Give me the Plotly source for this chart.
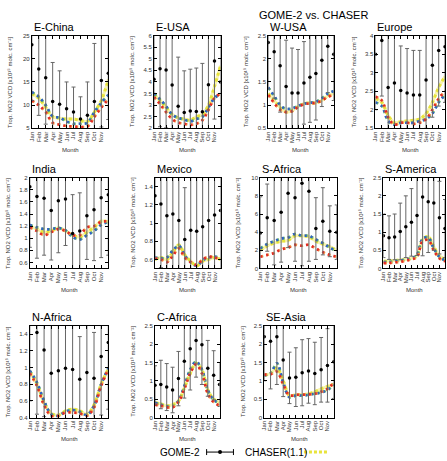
import plotly.graph_objects as go

MONTHS = ["Jan", "Feb", "Mar", "Apr", "May", "Jun", "Jul", "Aug", "Sep", "Oct", "Nov", "Dec"]
MONTH_NUM = list(range(1, 13))

REGIONS = ["E-China", "E-USA", "W-USA", "Europe", "India", "Mexico", "S-Africa",
           "S-America", "N-Africa", "C-Africa", "SE-Asia"]

# GOME-2 monthly means and error (1 sigma)
ECHINA_GOME = [23.0, 17.8, 15.9, 10.8, 10.2, 9.2, 8.5, 7.0, 7.8, 10.8, 15.3, 16.9]
ECHINA_ERR = [12, 10, 10, 8.4, 7.2, 5.8, 5.4, 4.8, 7.2, 12.5, 10, 10]
ECHINA_YEL = [12.5, 11.5, 9.5, 7.5, 7.2, 7.0, 7.0, 6.7, 6.5, 8.5, 11.0, 15.5]
ECHINA_BLU = [12.8, 11.8, 10.0, 7.6, 7.3, 6.5, 6.0, 6.0, 6.2, 8.5, 10.5, 12.2]
ECHINA_RED = [11.0, 10.0, 8.5, 6.2, 5.8, 5.5, 5.4, 5.3, 5.4, 7.5, 9.5, 11.3]

EUSA_GOME = [4.12, 4.57, 4.52, 3.87, 2.95, 2.68, 2.75, 2.73, 2.72, 3.88, 4.9, 4.0]
EUSA_ERR = [2.5, 2.5, 2.5, 2.3, 2.12, 1.8, 1.8, 1.87, 2.08, 2.3, 2.5, 2.5]
EUSA_YEL = [3.45, 3.2, 2.9, 2.6, 2.45, 2.4, 2.35, 2.5, 2.6, 3.0, 3.8, 4.7]
EUSA_BLU = [3.5, 3.25, 2.95, 2.6, 2.45, 2.38, 2.3, 2.4, 2.5, 2.9, 3.3, 3.5]
EUSA_RED = [3.35, 3.05, 2.7, 2.4, 2.25, 2.2, 2.15, 2.2, 2.35, 2.8, 3.3, 3.5]

WUSA_GOME = [2.35, 2.15, 1.85, 1.4, 1.26, 1.26, 1.48, 1.6, 1.68, 1.97, 2.27, 2.1]
WUSA_ERR = [1.0, 1.0, 1.0, 1.0, 0.97, 0.94, 0.89, 0.97, 1.0, 1.0, 1.0, 1.0]
WUSA_YEL = [1.25, 1.1, 0.95, 0.85, 0.88, 0.97, 1.03, 1.05, 1.05, 1.1, 1.2, 1.25]
WUSA_BLU = [1.38, 1.2, 1.0, 0.92, 0.93, 0.98, 1.03, 1.05, 1.07, 1.15, 1.25, 1.3]
WUSA_RED = [1.22, 1.05, 0.9, 0.85, 0.87, 0.96, 1.02, 1.04, 1.05, 1.1, 1.18, 1.22]

EUROPE_GOME = [3.5, 3.87, 2.6, 2.72, 2.52, 2.45, 2.4, 2.4, 2.8, 3.2, 3.6, 3.7]
EUROPE_ERR = [1.5, 1.5, 1.4, 1.3, 1.2, 1.2, 1.2, 1.2, 1.3, 1.4, 1.5, 1.5]
EUROPE_YEL = [2.3, 2.2, 1.85, 1.65, 1.68, 1.7, 1.72, 1.75, 1.9, 2.2, 2.6, 2.9]
EUROPE_BLU = [2.2, 2.1, 1.7, 1.6, 1.65, 1.65, 1.65, 1.7, 1.75, 1.9, 2.2, 2.4]
EUROPE_RED = [2.35, 2.25, 1.8, 1.6, 1.65, 1.65, 1.62, 1.65, 1.75, 2.0, 2.3, 2.5]

INDIA_GOME = [1.85, 1.69, 1.66, 1.46, 1.62, 1.65, 1.08, 1.12, 1.37, 1.47, 1.67, 1.72]
INDIA_ERR = [1.0, 1.02, 0.94, 0.82, 0.86, 0.77, 0.64, 0.63, 0.72, 0.84, 0.99, 1.0]
INDIA_YEL = [1.2, 1.15, 1.1, 1.12, 1.17, 1.12, 1.05, 1.02, 1.1, 1.18, 1.28, 1.27]
INDIA_BLU = [1.22, 1.18, 1.15, 1.15, 1.17, 1.13, 1.02, 0.98, 1.05, 1.12, 1.22, 1.27]
INDIA_RED = [1.18, 1.12, 1.05, 1.1, 1.15, 1.12, 1.05, 1.05, 1.18, 1.2, 1.27, 1.28]

MEXICO_GOME = [1.3, 1.21, 1.08, 1.1, 1.03, 0.82, 0.92, 0.91, 0.96, 1.03, 1.09, 1.14]
MEXICO_ERR = [0.7, 0.7, 0.65, 0.65, 0.6, 0.57, 0.62, 0.62, 0.6, 0.65, 0.7, 0.7]
MEXICO_YEL = [0.6, 0.62, 0.6, 0.68, 0.76, 0.65, 0.58, 0.53, 0.58, 0.6, 0.62, 0.6]
MEXICO_BLU = [0.62, 0.61, 0.62, 0.7, 0.75, 0.64, 0.57, 0.53, 0.59, 0.62, 0.63, 0.62]
MEXICO_RED = [0.61, 0.6, 0.57, 0.64, 0.72, 0.62, 0.57, 0.54, 0.6, 0.63, 0.62, 0.6]

SAFRICA_GOME = [3.9, 5.6, 5.3, 6.2, 8.3, 7.8, 9.4, 8.5, 4.4, 5.2, 4.1, 4.0]
SAFRICA_ERR = [4.0, 3.7, 4.9, 5.5, 6.0, 7.0, 9.1, 7.7, 3.4, 3.7, 2.8, 3.0]
SAFRICA_YEL = [2.0, 2.5, 2.8, 3.0, 3.1, 3.6, 3.6, 3.5, 3.0, 2.7, 2.4, 2.0]
SAFRICA_BLU = [2.2, 2.7, 3.0, 3.3, 3.4, 3.8, 3.6, 3.6, 3.2, 2.8, 2.3, 1.9]
SAFRICA_RED = [1.3, 1.5, 1.7, 2.1, 2.3, 2.6, 2.5, 2.6, 2.2, 1.8, 1.5, 1.3]

SAMERICA_GOME = [0.9, 0.85, 0.87, 1.02, 1.15, 1.27, 1.46, 1.97, 1.84, 1.8, 1.4, 1.1]
SAMERICA_ERR = [0.6, 0.6, 0.63, 0.78, 0.85, 0.93, 1.1, 1.62, 1.4, 1.3, 1.0, 0.8]
SAMERICA_YEL = [0.2, 0.2, 0.22, 0.23, 0.25, 0.28, 0.35, 0.8, 0.88, 0.6, 0.35, 0.25]
SAMERICA_BLU = [0.18, 0.18, 0.2, 0.22, 0.25, 0.28, 0.38, 0.82, 0.85, 0.55, 0.32, 0.22]
SAMERICA_RED = [0.15, 0.15, 0.17, 0.18, 0.22, 0.25, 0.32, 0.75, 0.78, 0.5, 0.28, 0.2]

NAFRICA_GOME = [1.6, 1.42, 1.21, 0.93, 0.96, 0.99, 0.975, 0.86, 0.94, 0.87, 1.13, 1.3]
NAFRICA_ERR = [1.0, 0.98, 0.8, 0.6, 0.6, 0.6, 0.6, 0.51, 0.6, 0.55, 0.7, 0.8]
NAFRICA_YEL = [0.95, 0.8, 0.58, 0.45, 0.43, 0.48, 0.5, 0.48, 0.44, 0.55, 0.8, 0.98]
NAFRICA_BLU = [0.96, 0.82, 0.6, 0.44, 0.42, 0.47, 0.49, 0.47, 0.43, 0.54, 0.8, 0.99]
NAFRICA_RED = [0.93, 0.78, 0.55, 0.42, 0.42, 0.46, 0.46, 0.45, 0.42, 0.52, 0.78, 0.98]

CAFRICA_GOME = [0.88, 0.9, 0.83, 0.75, 1.06, 1.53, 1.87, 2.1, 1.98, 1.34, 1.15, 0.9]
CAFRICA_ERR = [0.53, 0.66, 0.64, 0.62, 0.74, 1.0, 1.12, 1.0, 1.08, 0.76, 0.67, 0.6]
CAFRICA_YEL = [0.4, 0.37, 0.32, 0.35, 0.45, 0.8, 1.2, 1.48, 1.3, 0.75, 0.5, 0.42]
CAFRICA_BLU = [0.4, 0.35, 0.3, 0.3, 0.45, 0.85, 1.3, 1.52, 1.3, 0.75, 0.48, 0.4]
CAFRICA_RED = [0.35, 0.32, 0.28, 0.28, 0.42, 0.78, 1.2, 1.45, 1.2, 0.65, 0.42, 0.33]

SEASIA_GOME = [2.2, 2.08, 2.2, 1.57, 1.08, 1.1, 1.22, 1.27, 1.2, 1.3, 1.42, 1.52]
SEASIA_ERR = [1.2, 1.3, 1.3, 1.0, 0.7, 0.8, 0.9, 0.88, 0.85, 0.88, 1.0, 1.0]
SEASIA_YEL = [1.15, 1.2, 1.35, 1.0, 0.6, 0.62, 0.62, 0.65, 0.7, 0.78, 0.85, 0.9]
SEASIA_BLU = [1.15, 1.2, 1.48, 0.95, 0.55, 0.6, 0.6, 0.62, 0.65, 0.68, 0.75, 0.9]
SEASIA_RED = [1.17, 1.18, 1.25, 0.9, 0.6, 0.62, 0.62, 0.63, 0.65, 0.7, 0.78, 0.95]

Y_RANGES = [[5, 25], [2, 6], [0.5, 2.5], [1.5, 4], [0.5, 2], [0.5, 1.5], [0, 10],
            [0, 2.5], [0.4, 1.5], [0, 2.5], [0, 2.5]]
Y_TICKS = [[5, 10, 15, 20, 25], [2, 2.5, 3, 3.5, 4, 4.5, 5, 5.5, 6],
           [0.5, 1, 1.5, 2, 2.5], [1.5, 2, 2.5, 3, 3.5, 4],
           [0.6, 0.8, 1, 1.2, 1.4, 1.6, 1.8, 2], [0.6, 0.8, 1, 1.2, 1.4],
           [0, 2, 4, 6, 8, 10], [0, 0.5, 1, 1.5, 2, 2.5],
           [0.4, 0.6, 0.8, 1, 1.2, 1.4], [0, 0.5, 1, 1.5, 2, 2.5], [0, 0.5, 1, 1.5, 2, 2.5]]

SERIES = [
    (ECHINA_GOME, ECHINA_ERR, ECHINA_YEL, ECHINA_BLU, ECHINA_RED),
    (EUSA_GOME, EUSA_ERR, EUSA_YEL, EUSA_BLU, EUSA_RED),
    (WUSA_GOME, WUSA_ERR, WUSA_YEL, WUSA_BLU, WUSA_RED),
    (EUROPE_GOME, EUROPE_ERR, EUROPE_YEL, EUROPE_BLU, EUROPE_RED),
    (INDIA_GOME, INDIA_ERR, INDIA_YEL, INDIA_BLU, INDIA_RED),
    (MEXICO_GOME, MEXICO_ERR, MEXICO_YEL, MEXICO_BLU, MEXICO_RED),
    (SAFRICA_GOME, SAFRICA_ERR, SAFRICA_YEL, SAFRICA_BLU, SAFRICA_RED),
    (SAMERICA_GOME, SAMERICA_ERR, SAMERICA_YEL, SAMERICA_BLU, SAMERICA_RED),
    (NAFRICA_GOME, NAFRICA_ERR, NAFRICA_YEL, NAFRICA_BLU, NAFRICA_RED),
    (CAFRICA_GOME, CAFRICA_ERR, CAFRICA_YEL, CAFRICA_BLU, CAFRICA_RED),
    (SEASIA_GOME, SEASIA_ERR, SEASIA_YEL, SEASIA_BLU, SEASIA_RED),
]

YTITLE = "Trop. NO2 VCD [x10¹⁵ molc. cm⁻²]"

# Layout geometry (pixels)
W, H = 447, 461
ROW_TB = [(33, 127), (177, 269), (327, 420)]
PANEL_LR = [(29, 106), (152, 219), (267, 333), (375, 445),
            (27, 106), (153, 219), (259, 336), (383, 445),
            (27, 106), (153, 218), (263, 333)]

FONT = "Liberation Sans, Arial, sans-serif"

fig = go.Figure()
annotations = []
layout_axes = {}

for i, name in enumerate(REGIONS):
    row = i // 4
    left, right = PANEL_LR[i]
    top, bottom = ROW_TB[row]
    k = "" if i == 0 else str(i + 1)
    xa, ya = "x" + k, "y" + k
    gome, err, yel, blu, red = SERIES[i]

    common = dict(xaxis=xa, yaxis=ya, x=MONTH_NUM, showlegend=False, hoverinfo="skip")
    fig.add_trace(go.Scatter(y=yel, mode="lines", line=dict(color="#f7f3b0", width=3, shape="spline"), **common))
    fig.add_trace(go.Scatter(y=yel, mode="lines", line=dict(color="#e8e43c", width=3, dash="3px,3px", shape="spline"), **common))
    fig.add_trace(go.Scatter(y=blu, mode="lines", line=dict(color="#6cb86c", width=2.6, dash="3px,3px", shape="spline"), **common))
    fig.add_trace(go.Scatter(y=blu, mode="lines", line=dict(color="#2f5fc8", width=2.6, dash="2px,4px", shape="spline"), **common))
    fig.add_trace(go.Scatter(y=red, mode="lines", line=dict(color="#f29a4a", width=2.6, dash="3px,3px", shape="spline"), **common))
    fig.add_trace(go.Scatter(y=red, mode="lines", line=dict(color="#e02828", width=2.6, dash="2px,4px", shape="spline"), **common))
    fig.add_trace(go.Scatter(
        y=gome, mode="markers",
        marker=dict(color="black", size=3.5, symbol="circle"),
        error_y=dict(type="data", array=err, color="#666666", thickness=1, width=2),
        **common))

    xd = [left / W, right / W]
    yd = [1 - bottom / H, 1 - top / H]
    axstyle = dict(showline=True, linecolor="black", linewidth=1, mirror="allticks",
                   ticks="inside", ticklen=3, tickcolor="black", showgrid=False, zeroline=False,
                   tickfont=dict(size=6, family=FONT, color="#333"))
    layout_axes["xaxis" + k] = dict(domain=xd, anchor=ya, range=[1, 12],
                                    tickvals=MONTH_NUM[:11], ticktext=MONTHS[:11],
                                    tickangle=-90, **axstyle)
    layout_axes["yaxis" + k] = dict(domain=yd, anchor=xa, range=Y_RANGES[i],
                                    tickvals=Y_TICKS[i], **axstyle)

    annotations.append(dict(text=name, xref="paper", yref="paper", x=left / W, y=1 - (top - 1) / H,
                            xanchor="left", yanchor="bottom", showarrow=False,
                            font=dict(size=11, family=FONT, color="black")))
    annotations.append(dict(text="Month", xref="paper", yref="paper", x=(left + right) / 2 / W,
                            y=1 - (bottom + 17) / H, xanchor="center", yanchor="top", showarrow=False,
                            font=dict(size=6, family=FONT, color="#333")))
    annotations.append(dict(text=YTITLE,
                            xref="paper", yref="paper", x=(left - 17) / W, y=1 - (top + bottom) / 2 / H,
                            xanchor="right", yanchor="middle", textangle=-90, showarrow=False,
                            font=dict(size=6, family=FONT, color="#333")))

annotations.append(dict(text="GOME-2 vs. CHASER", xref="paper", yref="paper", x=313 / W, y=1 - 4 / H,
                        xanchor="center", yanchor="top", showarrow=False,
                        font=dict(size=11, family=FONT, color="black")))
annotations.append(dict(text="GOME-2", xref="paper", yref="paper", x=200 / W, y=1 - 455 / H,
                        xanchor="right", yanchor="middle", showarrow=False,
                        font=dict(size=10, family=FONT, color="black")))
annotations.append(dict(text="CHASER(1.1)", xref="paper", yref="paper", x=242 / W, y=1 - 455 / H,
                        xanchor="left", yanchor="middle", showarrow=False,
                        font=dict(size=10, family=FONT, color="black")))

shapes = [
    dict(type="line", xref="paper", yref="paper", x0=205 / W, x1=232 / W, y0=1 - 455 / H, y1=1 - 455 / H,
         line=dict(color="black", width=1)),
    dict(type="line", xref="paper", yref="paper", x0=205 / W, x1=205 / W, y0=1 - 452 / H, y1=1 - 458 / H,
         line=dict(color="black", width=1)),
    dict(type="line", xref="paper", yref="paper", x0=232 / W, x1=232 / W, y0=1 - 452 / H, y1=1 - 458 / H,
         line=dict(color="black", width=1)),
    dict(type="circle", xref="paper", yref="paper", x0=216.5 / W, x1=220.5 / W, y0=1 - 453 / H, y1=1 - 457 / H,
         fillcolor="black", line=dict(color="black", width=0)),
    dict(type="line", xref="paper", yref="paper", x0=303 / W, x1=328 / W, y0=1 - 455 / H, y1=1 - 455 / H,
         line=dict(color="#e8e43c", width=3, dash="3px,2px")),
]

fig.update_layout(width=W, height=H, margin=dict(l=0, r=0, t=0, b=0),
                  paper_bgcolor="white", plot_bgcolor="white",
                  annotations=annotations, shapes=shapes, **layout_axes)

fig.write_html("out.html")
